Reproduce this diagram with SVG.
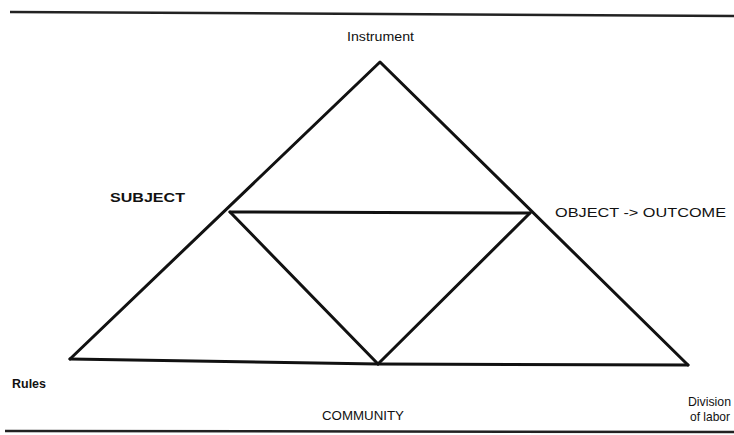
<svg xmlns="http://www.w3.org/2000/svg" width="734" height="435" viewBox="0 0 734 435">
<style>
.ln{stroke:#111;stroke-width:3;fill:none;stroke-linecap:round;stroke-linejoin:round}
.rule{stroke:#222;stroke-width:2.5;fill:none}
.t{font-family:"Liberation Sans",Arial,sans-serif;fill:#111;font-size:13px}
</style>
<rect width="734" height="435" fill="#fff"/>
<line class="rule" x1="10" y1="12" x2="734" y2="16"/>
<line class="rule" x1="5" y1="431" x2="734" y2="432"/>
<g id="connectors">
<polyline class="ln" points="70,359 380,62 688,365"/>
<polyline class="ln" points="70,359 378,364 688,365"/>
<line class="ln" x1="230" y1="212" x2="530" y2="213"/>
<line class="ln" x1="230" y1="212" x2="378" y2="364"/>
<line class="ln" x1="530" y1="213" x2="378" y2="364"/>
</g>
<g id="instrument"><text class="t" x="347" y="41" font-size="12" textLength="67" lengthAdjust="spacingAndGlyphs">Instrument</text></g>
<g id="subject"><text class="t" x="110" y="202" font-size="14" font-weight="bold" textLength="75" lengthAdjust="spacingAndGlyphs">SUBJECT</text></g>
<g id="object"><text class="t" x="555" y="217" font-size="14" textLength="171" lengthAdjust="spacingAndGlyphs">OBJECT -&gt; OUTCOME</text></g>
<g id="rules"><text class="t" x="12" y="388" font-size="12" font-weight="bold" textLength="34" lengthAdjust="spacingAndGlyphs">Rules</text></g>
<g id="community"><text class="t" x="322" y="420" textLength="82" lengthAdjust="spacingAndGlyphs">COMMUNITY</text></g>
<g id="division"><text class="t" x="688" y="406" textLength="43" lengthAdjust="spacingAndGlyphs">Division</text><text class="t" x="690" y="421" textLength="40" lengthAdjust="spacingAndGlyphs">of labor</text></g>
</svg>
